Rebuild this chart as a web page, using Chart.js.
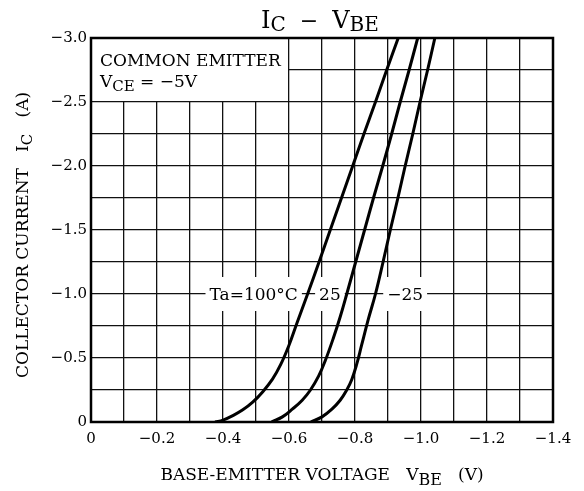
<!DOCTYPE html>
<html>
<head>
<meta charset="utf-8">
<script src="https://cdn.jsdelivr.net/npm/chart.js@4.4.0/dist/chart.umd.min.js"></script>
<style>
  html, body { margin: 0; padding: 0; background: #fff; }
</style>
</head>
<body>
<canvas id="myChart" width="584" height="491"></canvas>
<script>
// Ic - Vbe curves (volts / amps, both negative)
const vbe100 = [-0.376, -0.40, -0.43, -0.46, -0.49, -0.52, -0.55, -0.575, -0.60, -0.625, -0.655, -0.691, -0.725, -0.759, -0.793, -0.827, -0.862, -0.896, -0.931];
const ic100  = [0, -0.015, -0.05, -0.095, -0.155, -0.235, -0.335, -0.45, -0.60, -0.78, -0.99, -1.25, -1.5, -1.75, -2.0, -2.25, -2.5, -2.75, -3.0];

const vbe25 = [-0.547, -0.58, -0.61, -0.64, -0.665, -0.69, -0.71, -0.735, -0.755, -0.775, -0.802, -0.829, -0.856, -0.884, -0.911, -0.937, -0.964, -0.990];
const ic25  = [0, -0.04, -0.10, -0.17, -0.25, -0.36, -0.48, -0.66, -0.82, -1.0, -1.25, -1.5, -1.75, -2.0, -2.25, -2.5, -2.75, -3.0];

const vbeM25 = [-0.666, -0.70, -0.73, -0.755, -0.775, -0.79, -0.805, -0.82, -0.84, -0.862, -0.885, -0.907, -0.930, -0.952, -0.975, -0.997, -1.020, -1.042];
const icM25  = [0, -0.04, -0.10, -0.17, -0.25, -0.33, -0.45, -0.60, -0.80, -1.0, -1.25, -1.5, -1.75, -2.0, -2.25, -2.5, -2.75, -3.0];

const curveLabels = ['Ta=100\u00B0C', '25', '\u221225'];
const labelV = [-0.493, -0.724, -0.952];
const labelI = -1.0;

const xTickLabels = ['0', '\u22120.2', '\u22120.4', '\u22120.6', '\u22120.8', '\u22121.0', '\u22121.2', '\u22121.4'];
const yTickLabels = ['0', '\u22120.5', '\u22121.0', '\u22121.5', '\u22122.0', '\u22122.5', '\u22123.0'];

const SERIF = '"DejaVu Serif", serif';

function pts(xs, ys) {
  return xs.map((v, i) => ({ x: v, y: ys[i] }));
}

function runsWidth(ctx, runs) {
  let w = 0;
  runs.forEach(r => {
    ctx.font = r.size + 'px ' + SERIF;
    w += ctx.measureText(r.text).width;
  });
  return w;
}

// draws text pieces one after the other, some of them as subscripts
function drawRuns(ctx, runs, x, y, align) {
  let cx = align === 'center' ? x - runsWidth(ctx, runs) / 2 : x;
  ctx.textAlign = 'left';
  ctx.textBaseline = 'alphabetic';
  runs.forEach(r => {
    ctx.font = r.size + 'px ' + SERIF;
    ctx.fillText(r.text, cx, y + (r.dy || 0));
    cx += ctx.measureText(r.text).width;
  });
}

const paperPlugin = {
  id: 'paper',
  beforeDatasetsDraw(chart) {
    const { ctx, chartArea: a, scales: { x, y } } = chart;
    ctx.save();
    // condition box in the top-left corner
    ctx.fillStyle = '#fff';
    ctx.fillRect(a.left + 1, a.top + 1, x.getPixelForValue(-0.6) - a.left - 2, y.getPixelForValue(-2.5) - a.top - 2);
    ctx.fillStyle = '#000';
    drawRuns(ctx, [{ text: 'COMMON EMITTER', size: 17 }], a.left + 9, a.top + 28);
    drawRuns(ctx, [
      { text: 'V', size: 17 },
      { text: 'CE', size: 15, dy: 4 },
      { text: ' = \u22125V', size: 17 }
    ], a.left + 9, a.top + 49);

    // temperature labels sitting on the -1.0 A line
    ctx.font = '17px ' + SERIF;
    curveLabels.forEach((t, i) => {
      const px = x.getPixelForValue(labelV[i]);
      const py = y.getPixelForValue(labelI);
      const w = ctx.measureText(t).width;
      ctx.fillStyle = '#fff';
      ctx.fillRect(px - w / 2 - 4, py - 17, w + 8, 34);
      ctx.fillStyle = '#000';
      ctx.textAlign = 'center';
      ctx.textBaseline = 'alphabetic';
      ctx.fillText(t, px, py + 6);
    });
    ctx.restore();
  },
  afterDatasetsDraw(chart) {
    const { ctx, chartArea: a } = chart;
    ctx.save();
    ctx.strokeStyle = '#000';
    ctx.lineWidth = 2.5;
    ctx.strokeRect(a.left, a.top, a.right - a.left, a.bottom - a.top);
    ctx.restore();
  },
  afterDraw(chart) {
    const { ctx, chartArea: a } = chart;
    ctx.save();
    ctx.fillStyle = '#000';
    // title
    drawRuns(ctx, [
      { text: 'I', size: 24 },
      { text: 'C', size: 20, dy: 3 },
      { text: '  \u2212  ', size: 22 },
      { text: 'V', size: 24 },
      { text: 'BE', size: 20, dy: 3 }
    ], 320, 28, 'center');

    // x axis title
    drawRuns(ctx, [
      { text: 'BASE-EMITTER VOLTAGE   ', size: 17 },
      { text: 'V', size: 17 },
      { text: 'BE', size: 16, dy: 5 },
      { text: '   (V)', size: 17 }
    ], (a.left + a.right) / 2, 480, 'center');

    // y axis title
    ctx.translate(28, 235);
    ctx.rotate(-Math.PI / 2);
    drawRuns(ctx, [
      { text: 'COLLECTOR CURRENT   ', size: 17 },
      { text: 'I', size: 17 },
      { text: 'C', size: 15, dy: 4 },
      { text: '   (A)', size: 17 }
    ], 0, 0, 'center');
    ctx.restore();
  }
};

const curveStyle = {
  borderColor: '#000',
  borderWidth: 3,
  pointRadius: 0,
  fill: false,
  tension: 0.4
};

const ctx = document.getElementById('myChart').getContext('2d');
const myChart = new Chart(ctx, {
  type: 'line',
  data: {
    datasets: [
      { label: curveLabels[0], data: pts(vbe100, ic100), ...curveStyle },
      { label: curveLabels[1], data: pts(vbe25, ic25), ...curveStyle },
      { label: curveLabels[2], data: pts(vbeM25, icM25), ...curveStyle }
    ]
  },
  options: {
    responsive: false,
    animation: false,
    layout: { padding: { top: 38, right: 31, left: 0, bottom: 0 } },
    plugins: {
      legend: { display: false },
      tooltip: { enabled: false }
    },
    scales: {
      x: {
        type: 'linear',
        min: -1.4,
        max: 0,
        reverse: true,
        afterFit(scale) { scale.height = 69; },
        border: { display: false },
        grid: { color: '#111', lineWidth: 1.3, drawTicks: false },
        ticks: {
          stepSize: 0.1,
          maxTicksLimit: 100,
          autoSkip: false,
          maxRotation: 0,
          padding: 8,
          color: '#000',
          font: { family: SERIF, size: 15 },
          callback(value) {
            const n = Math.round(-value * 10);
            return n % 2 === 0 ? xTickLabels[n / 2] : '';
          }
        }
      },
      y: {
        type: 'linear',
        min: -3,
        max: 0,
        reverse: true,
        afterFit(scale) { scale.width = 91; },
        border: { display: false },
        grid: { color: '#111', lineWidth: 1.3, drawTicks: false },
        ticks: {
          stepSize: 0.25,
          maxTicksLimit: 100,
          autoSkip: false,
          padding: 4,
          color: '#000',
          font: { family: SERIF, size: 15 },
          callback(value) {
            const n = Math.round(-value * 4);
            return n % 2 === 0 ? yTickLabels[n / 2] : '';
          }
        }
      }
    }
  },
  plugins: [paperPlugin]
});
</script>
</body>
</html>
